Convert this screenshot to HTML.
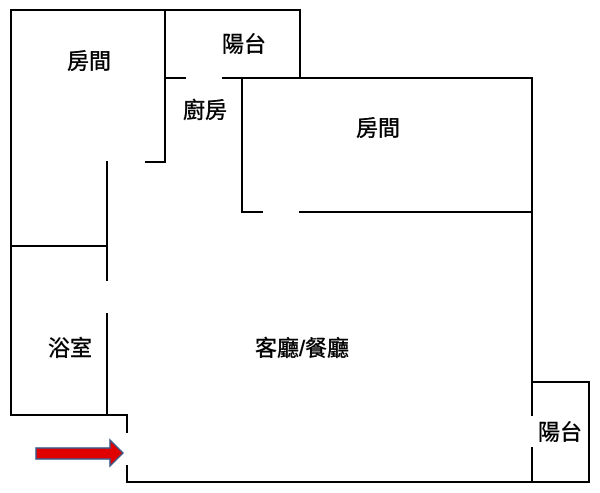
<!DOCTYPE html>
<html><head><meta charset="utf-8"><style>
body{margin:0;background:#fff}
</style></head><body>
<svg width="600" height="493" viewBox="0 0 600 493" xmlns="http://www.w3.org/2000/svg" style="display:block">
<rect width="600" height="493" fill="#fff"/>
<g stroke="#000" stroke-width="2" fill="none" stroke-linecap="square">
<polyline points="11,415 11,10 300,10 300,78"/>
<polyline points="146,162 165,162 165,10"/>
<line x1="165" y1="78" x2="185" y2="78"/>
<line x1="223" y1="78" x2="532" y2="78"/>
<polyline points="262,212 242,212 242,78"/>
<line x1="300" y1="212" x2="532" y2="212"/>
<line x1="532" y1="78" x2="532" y2="415"/>
<line x1="532" y1="448" x2="532" y2="482"/>
<polyline points="532,382 589,382 589,482 127,482 127,466"/>
<polyline points="127,432 127,415 11,415"/>
<line x1="11" y1="246" x2="107" y2="246"/>
<line x1="107" y1="162" x2="107" y2="280"/>
<line x1="107" y1="314" x2="107" y2="415"/>
</g>
<polygon points="36,448 110,448 110,440 123,453 110,466 110,459 36,459" fill="#e00000" stroke="#3d5a8a" stroke-width="1.5"/>
<g font-family="Liberation Sans, Noto Sans CJK TC, sans-serif" font-size="22" fill="#000" text-anchor="middle" stroke="#000" stroke-width="0.4">
<text x="89" y="69">房間</text>
<text x="244" y="52">陽台</text>
<text x="205" y="118">廚房</text>
<text x="378" y="136">房間</text>
<text x="70" y="356">浴室</text>
<text x="302" y="356">客廳/餐廳</text>
<text x="560" y="440">陽台</text>
</g>
</svg>
</body></html>
